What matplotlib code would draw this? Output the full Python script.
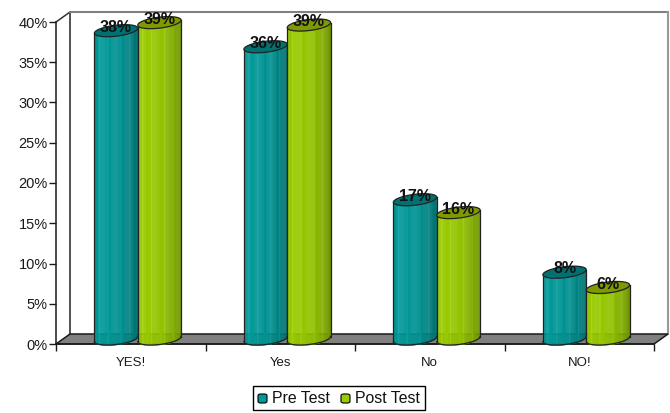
import numpy as np
import matplotlib.pyplot as plt
from matplotlib.patches import Polygon, FancyBboxPatch
from matplotlib.colors import to_rgb

plt.rcParams['font.family'] = ['Liberation Sans', 'DejaVu Sans']

categories = ["YES!", "Yes", "No", "NO!"]
pre_test = [38.3, 36.3, 17.3, 8.3]
post_test = [39.3, 39.0, 15.7, 6.4]
series_names = ["Pre Test", "Post Test"]

teal = "#009999"
teal_top = "#007070"
green = "#99CC00"
green_top = "#7F9900"

# depth of the fake 3d box, in data units (x = categories, y = percent)
dx = 14 / 149.5
dy = 10 / 8.05
bar_w = 0.29
ell_b = 5.5 / 8.05
tilt = 2.5 / 8.05


def shade(u):
    # brightness across the cylinder, u from 0 to 1
    return np.interp(u, [0, 0.12, 0.55, 0.8, 1], [0.95, 1.0, 0.95, 0.84, 0.72])


def cylinder(ax, left, value, col, col_top, z):
    base = dy / 2
    top = base + value
    n = 40
    edges = np.linspace(left, left + bar_w, n + 1)
    for i in range(n):
        u = (i + 0.5) / n
        c = np.clip(np.array(to_rgb(col)) * shade(u), 0, 1)
        # light streaks like the reference
        if i in (4, 12, 24, 32):
            c = np.clip(c + 0.05, 0, 1)
        xs = np.linspace(edges[i], edges[i + 1], 4)
        t = (xs - left) / bar_w * 2 - 1
        low = base + tilt * t - ell_b * np.sqrt(np.clip(1 - t * t, 0, 1))
        ax.fill_between(xs, low, top + tilt * t, color=c, lw=0.3, zorder=z, clip_on=False)
    t = np.linspace(-1, 1, 60)
    xs = left + bar_w / 2 + t * bar_w / 2
    low = base + tilt * t - ell_b * np.sqrt(1 - t * t)
    edge = "#222222"
    ax.plot(xs, low, color=edge, lw=0.9, zorder=z + 0.1, clip_on=False)
    ax.plot([left, left], [base - tilt, top - tilt], color=edge, lw=0.9, zorder=z + 0.1, clip_on=False)
    ax.plot([left + bar_w] * 2, [base + tilt, top + tilt], color=edge, lw=0.9, zorder=z + 0.1, clip_on=False)
    a = np.linspace(0, 2 * np.pi, 80)
    ring = np.column_stack((left + bar_w / 2 + bar_w / 2 * np.cos(a),
                            top + tilt * np.cos(a) + ell_b * np.sin(a)))
    ax.add_patch(Polygon(ring, fc=col_top, ec=edge, lw=0.9, zorder=z + 0.2, clip_on=False))


fig = plt.figure(figsize=(6.7, 4.13), dpi=100)
ax = fig.add_axes([56 / 670, 1 - 344 / 413, 598 / 670, 322 / 413])
ax.set_xlim(0, 4)
ax.set_ylim(0, 40)

# walls and floor
ax.add_patch(Polygon([(0, 0), (dx, dy), (4 + dx, dy), (4, 0)], fc="#808080", ec="#1a1a1a",
                     lw=1.1, zorder=1, clip_on=False))
ax.plot([dx, dx], [dy, 40 + dy], color="#333333", lw=1.2, zorder=0.5, clip_on=False)
ax.plot([0, dx], [40, 40 + dy], color="#333333", lw=1.1, zorder=0.5, clip_on=False)
ax.plot([dx, 4 + dx], [40 + dy, 40 + dy], color="#808080", lw=1.5, zorder=0.5, clip_on=False)
ax.plot([4 + dx, 4 + dx], [dy, 40 + dy], color="#999999", lw=1.5, zorder=0.5, clip_on=False)

x = np.arange(len(categories))
for i in x:
    left = i + 0.5 + dx / 2 - bar_w
    cylinder(ax, left, pre_test[i], teal, teal_top, 3 + i)
    cylinder(ax, left + bar_w, post_test[i], green, green_top, 3.5 + i)
    for pos, val in ((left + bar_w / 2, pre_test[i]), (left + 1.5 * bar_w, post_test[i])):
        ax.text(pos, val + dy / 2 + 0.4, f"{val:.0f}%", ha="center", va="center",
                fontsize=11.5, fontweight="bold", color="#111111", zorder=10, clip_on=False)

for side in ("top", "right"):
    ax.spines[side].set_visible(False)
for side in ("left", "bottom"):
    ax.spines[side].set_color("#1a1a1a")
    ax.spines[side].set_linewidth(1.1)
    ax.spines[side].set_zorder(2)

ax.set_yticks(np.arange(0, 45, 5))
ax.set_yticklabels([f"{v}%" for v in range(0, 45, 5)], fontsize=10.5, color="#1a1a1a")
ax.set_xticks(np.arange(0, 5))
ax.set_xticklabels([])
ax.set_xticks(x + 0.5, minor=True)
ax.set_xticklabels(categories, minor=True, fontsize=9.5, color="#1a1a1a")
ax.tick_params(axis="x", which="minor", length=0, pad=9)
ax.tick_params(axis="both", which="major", length=5, width=1, color="#1a1a1a", pad=1)
ax.patch.set_alpha(0)

# legend box
fig.add_artist(plt.Rectangle((253 / 670, 1 - 410 / 413), 172 / 670, 24 / 413, fc="white",
                             ec="black", lw=1, transform=fig.transFigure))
for px, col, name in ((258, teal, series_names[0]), (341, green, series_names[1])):
    fig.add_artist(FancyBboxPatch((px / 670, 1 - 403 / 413), 9 / 670, 9 / 413,
                                  boxstyle="round,pad=0,rounding_size=0.004", fc=col, ec="black",
                                  lw=0.8, transform=fig.transFigure))
    fig.text((px + 14) / 670, 1 - 398.5 / 413, name, fontsize=11.4, va="center", ha="left",
             color="#111111")

fig.savefig("out.png", dpi=100)
